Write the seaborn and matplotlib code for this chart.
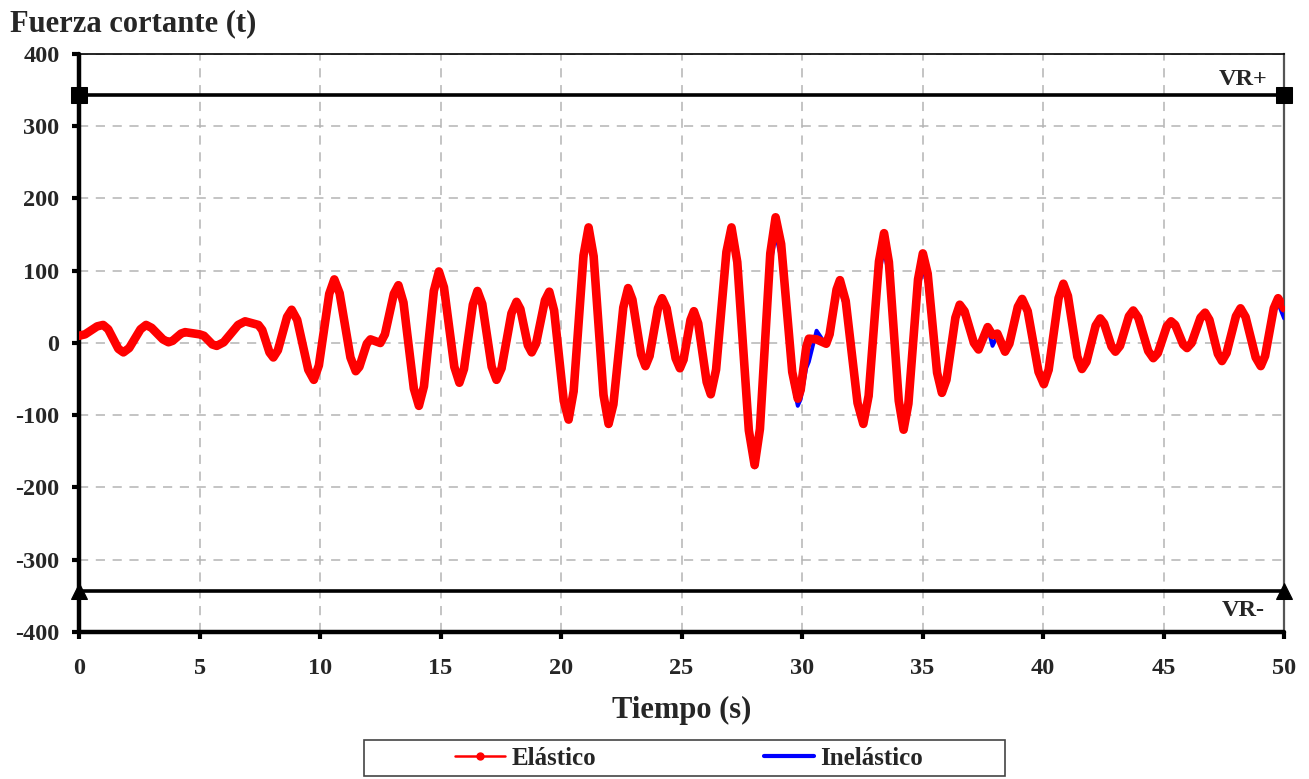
import numpy as np
import pandas as pd
import matplotlib
matplotlib.use("Agg")
import matplotlib.pyplot as plt
from matplotlib.lines import Line2D
from matplotlib.patches import Rectangle
import seaborn as sns

# --- DATA (extrema and shoulders of each swing) ---
tiempo = [0.0, 0.25, 0.75, 1.0, 1.21, 1.63, 1.84, 2.08, 2.55, 2.78,
          3.01, 3.48, 3.71, 3.88, 4.23, 4.4, 5.0, 5.18, 5.53, 5.71,
          6.0, 6.6, 6.89, 7.44, 7.6, 7.9, 8.06, 8.25, 8.63, 8.82,
          9.05, 9.51, 9.74, 9.95, 10.38, 10.59, 10.81, 11.26, 11.48, 11.63,
          11.94, 12.09, 12.5, 12.69, 13.06, 13.25, 13.46, 13.89, 14.1, 14.31,
          14.72, 14.93, 15.14, 15.57, 15.78, 15.97, 16.34, 16.53, 16.73, 17.12,
          17.32, 17.53, 17.94, 18.15, 18.31, 18.62, 18.78, 18.96, 19.33, 19.51,
          19.71, 20.11, 20.31, 20.52, 20.93, 21.14, 21.35, 21.76, 21.97, 22.17,
          22.58, 22.78, 22.96, 23.32, 23.5, 23.67, 24.02, 24.19, 24.38, 24.75,
          24.93, 25.08, 25.37, 25.51, 25.69, 26.04, 26.21, 26.43, 26.86, 27.07,
          27.31, 27.79, 28.03, 28.25, 28.68, 28.9, 29.13, 29.59, 29.82, 29.94,
          30.17, 30.28, 30.6, 31.0, 31.14, 31.43, 31.57, 31.81, 32.3, 32.54,
          32.76, 33.19, 33.4, 33.6, 34.01, 34.21, 34.41, 34.81, 35.01, 35.21,
          35.6, 35.8, 35.99, 36.36, 36.54, 36.74, 37.13, 37.32, 37.7, 37.9,
          38.1, 38.42, 38.6, 38.95, 39.13, 39.36, 39.81, 40.03, 40.23, 40.64,
          40.84, 41.03, 41.42, 41.61, 41.8, 42.18, 42.37, 42.53, 42.84, 43.0,
          43.19, 43.56, 43.74, 43.95, 44.36, 44.57, 44.76, 45.13, 45.31, 45.48,
          45.81, 45.97, 46.16, 46.53, 46.72, 46.9, 47.25, 47.42, 47.61, 48.0,
          48.19, 48.4, 48.82, 49.03, 49.21, 49.57, 49.75, 50.0]

fuerza_elastico = [10, 12, 23, 25, 19, -8, -13, -7, 19, 25,
                   21, 5, 1, 3, 13, 15, 12, 10, -2, -4,
                   1, 25, 30, 25, 18, -13, -20, -10, 36, 46,
                   32, -37, -51, -31, 68, 88, 69, -20, -39, -33,
                   -1, 5, 0, 12, 68, 80, 56, -63, -87, -60,
                   72, 99, 77, -33, -55, -36, 53, 72, 54, -33,
                   -51, -35, 41, 57, 47, -3, -13, -1, 59, 71,
                   45, -80, -106, -67, 121, 160, 120, -72, -112, -85,
                   49, 76, 60, -16, -32, -18, 48, 62, 48, -21,
                   -35, -23, 32, 44, 27, -54, -71, -37, 126, 160,
                   112, -121, -169, -119, 124, 174, 137, -40, -77, -65,
                   -6, 6, 5, -1, 12, 74, 87, 58, -83, -112,
                   -73, 113, 152, 112, -80, -120, -84, 88, 124, 96,
                   -41, -69, -51, 35, 53, 44, 0, -9, 22, 11,
                   13, -12, -1, 50, 61, 44, -40, -57, -37, 62,
                   82, 65, -19, -36, -26, 24, 34, 27, -5, -12,
                   -4, 37, 45, 35, -11, -21, -14, 23, 30, 25,
                   -2, -7, 0, 35, 42, 32, -15, -25, -14, 37,
                   48, 36, -20, -32, -18, 48, 62, 48]

fuerza_inelastico = [10, 12, 23, 25, 19, -8, -13, -7, 19, 25,
                     21, 5, 1, 3, 13, 15, 12, 10, -2, -4,
                     1, 25, 30, 25, 18, -13, -20, -10, 36, 46,
                     32, -37, -51, -31, 68, 88, 69, -20, -39, -33,
                     -1, 5, 0, 12, 68, 80, 56, -63, -87, -60,
                     72, 99, 77, -33, -55, -36, 53, 72, 54, -33,
                     -51, -35, 41, 57, 47, -3, -13, -1, 59, 71,
                     45, -80, -106, -67, 120, 158, 119, -72, -112, -85,
                     49, 76, 60, -16, -32, -18, 48, 62, 48, -21,
                     -35, -23, 32, 44, 27, -54, -71, -38, 122, 155,
                     107, -124, -172, -125, 105, 152, 117, -52, -87, -78,
                     -35, -26, 17, -3, 8, 64, 75, 48, -85, -112,
                     -77, 95, 130, 93, -83, -120, -87, 72, 105, 79,
                     -46, -72, -55, 28, 45, 37, -1, -9, 22, -4,
                     10, -14, -3, 47, 58, 41, -40, -57, -37, 60,
                     80, 63, -19, -36, -26, 22, 32, 25, -5, -12,
                     -5, 33, 40, 31, -12, -21, -14, 19, 26, 21,
                     -2, -7, -1, 32, 38, 29, -16, -25, -15, 35,
                     45, 34, -20, -32, -19, 42, 55, 34]

VR_POS = 343
VR_NEG = -343
T_LIMITS = [0, 50]

df = pd.DataFrame({'t': tiempo, 'elastico': fuerza_elastico, 'inelastico': fuerza_inelastico})

# --- STYLE ---
sns.set_style("white")
plt.rcParams['font.family'] = ['Liberation Serif', 'DejaVu Serif']
plt.rcParams['font.weight'] = 'bold'
plt.rcParams['axes.unicode_minus'] = False

fig = plt.figure(figsize=(13.09, 7.79), dpi=100)
ax = fig.add_axes([0.0604, 0.1887, 0.9206, 0.742])

ax.set_xlim(0, 50)
ax.set_ylim(-400, 400)
ax.set_xticks(np.arange(0, 51, 5))
ax.set_yticks(np.arange(-400, 401, 100))
ax.grid(True, color='#b4b4b4', linestyle=(0, (6, 5)), linewidth=1.1)
ax.set_axisbelow(True)

# Capacity lines VR+ / VR-
sns.lineplot(x=T_LIMITS, y=[VR_POS, VR_POS], ax=ax, color='black', linewidth=2.6,
             marker='s', markersize=11, markeredgecolor='black', clip_on=False, zorder=5)
sns.lineplot(x=T_LIMITS, y=[VR_NEG, VR_NEG], ax=ax, color='black', linewidth=2.6,
             marker='^', markersize=12, markeredgecolor='black', clip_on=False, zorder=5)

# Time histories
sns.lineplot(data=df, x='t', y='inelastico', ax=ax, color='#0000ff', linewidth=2.8,
             sort=False, zorder=3)
sns.lineplot(data=df, x='t', y='elastico', ax=ax, color='#ff0000', linewidth=6.2,
             marker='o', markersize=4, markeredgewidth=0, sort=False,
             solid_joinstyle='round', solid_capstyle='round', zorder=4)

ax.text(49.3, VR_POS + 7, 'VR+', ha='right', va='bottom', fontsize=17.5, fontweight='bold')
ax.text(49.2, VR_NEG - 13, 'VR-', ha='right', va='top', fontsize=17.5, fontweight='bold')

# Spines like the spreadsheet original
for side in ['left', 'bottom']:
    ax.spines[side].set_color('black')
    ax.spines[side].set_linewidth(3.2)
    ax.spines[side].set_capstyle('round')
ax.spines['top'].set_color('black')
ax.spines['top'].set_linewidth(1.2)
ax.spines['right'].set_color('#555555')
ax.spines['right'].set_linewidth(1.6)

ax.tick_params(axis='both', direction='out', length=5, width=3, color='black',
               labelsize=17.5, left=True, bottom=True)
ax.tick_params(axis='y', pad=9)
ax.tick_params(axis='x', pad=14)
for lbl in ax.get_xticklabels() + ax.get_yticklabels():
    lbl.set_fontweight('bold')

ax.set_xlabel('Tiempo (s)', fontsize=22, fontweight='bold', labelpad=12)
ax.set_ylabel('')
fig.text(0.008, 0.970, 'Fuerza cortante (t)', fontsize=22, fontweight='bold',
         ha='left', va='center')

# legend with a wide box, as in the original
fig.patches.append(Rectangle((0.2781, 0.0035), 0.4897, 0.0465, transform=fig.transFigure,
                             fill=False, edgecolor='#444444', linewidth=1.2))
handles = [Line2D([], [], color='#ff0000', linewidth=1.8, marker='o', markersize=5),
           Line2D([], [], color='#0000ff', linewidth=3)]
leg = fig.legend(handles, ['Elástico', 'Inelástico'], loc='center',
                 bbox_to_anchor=(0.5263, 0.0265), ncol=2, frameon=False,
                 fontsize=18, columnspacing=6.7, handlelength=2.0,
                 handletextpad=0.25, borderpad=0.2)
for txt in leg.get_texts():
    txt.set_fontweight('bold')

fig.savefig('out.png', dpi=100)
